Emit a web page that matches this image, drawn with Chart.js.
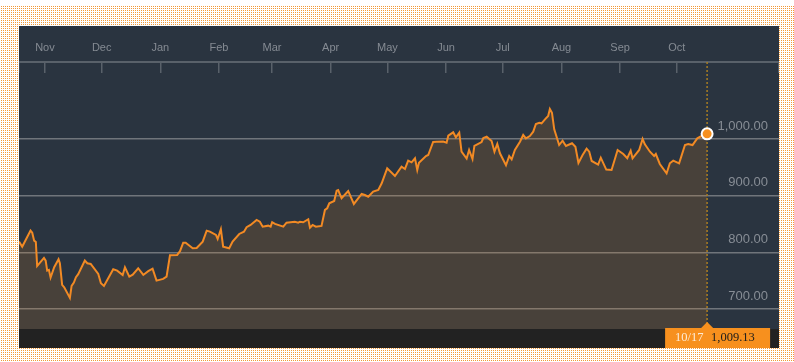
<!DOCTYPE html>
<html>
<head>
<meta charset="utf-8">
<script src="https://cdn.jsdelivr.net/npm/chart.js@4/dist/chart.umd.min.js"></script>
<style>
  html, body { margin: 0; padding: 0; }
  body {
    width: 794px; height: 362px; position: relative; overflow: hidden;
    background-color: #fff;
    background-image: conic-gradient(#f39a38 25%, #ffffff 0);
    background-size: 2px 2px;
  }
  #topband { position: absolute; left: 0; top: 0; width: 794px; height: 6px; background: #fff; }
  #panel {
    position: absolute; left: 19px; top: 26px; width: 760px; height: 322px;
    background: linear-gradient(to bottom, #2a3440 0, #2a3440 303px, #222 303px);
  }
</style>
</head>
<body>
<div id="topband"></div>
<div id="panel"><canvas id="chart"></canvas></div>
<script>
// days counted from 1 Nov 2016, closing values
const days = [
  -13.7, -12.0, -9.7, -7.6, -6.7, -5.7, -4.8, -4.1, -2.6, -0.5,
  0.4, 1.2, 2.1, 3.0, 4.9, 7.2, 7.9, 9.1, 10.2, 13.2,
  14.1, 15.3, 16.4, 17.6, 21.1, 22.4, 24.2, 28.2, 29.6, 31.2,
  36.1, 38.2, 41.1, 42.3, 44.6, 46.4, 49.3, 52.0, 54.6, 56.9,
  59.0, 62.5, 64.3, 66.1, 69.9, 71.4, 73.1, 74.4, 78.1, 80.2,
  83.4, 85.5, 87.2, 90.4, 91.3, 93.0, 94.2, 97.4, 99.2, 102.7,
  105.2, 106.6, 108.7, 111.9, 113.6, 115.1, 118.0, 119.3, 120.1, 121.6,
  126.0, 127.7, 132.1, 133.9, 134.8, 136.5, 139.2, 140.1, 141.5, 143.2,
  146.2, 148.0, 149.2, 150.3, 152.9, 154.2, 155.0, 156.8, 160.3, 163.3,
  167.4, 169.1, 170.9, 173.5, 176.2, 178.0, 180.9, 185.0, 188.5, 190.3,
  192.0, 193.8, 195.6, 196.8, 197.7, 201.4, 202.6, 205.2, 207.0, 210.5,
  212.3, 213.2, 215.8, 217.2, 219.0, 220.2, 222.9, 224.2, 226.0, 227.0,
  230.8, 231.7, 233.5, 236.1, 237.6, 239.1, 240.5, 243.7, 245.4, 246.7,
  248.4, 251.1, 252.8, 254.2, 256.3, 258.1, 259.5, 261.3, 262.5, 264.3,
  266.0, 266.9, 268.0, 269.2, 271.8, 273.6, 275.4, 278.6, 280.4, 282.0,
  284.2, 286.3, 287.7, 289.0, 292.4, 293.8, 296.7, 299.5, 302.7, 305.7,
  307.8, 309.6, 310.6, 314.1, 315.9, 317.1, 319.8, 322.0, 322.9, 325.0,
  328.6, 330.3, 332.1, 335.2, 338.3, 340.0, 342.3, 344.8, 347.1, 350
];
const values = [
  818.9, 810.0, 824.9, 838.3, 834.7, 820.6, 818.3, 776.0, 781.8, 790.1,
  785.4, 767.7, 769.0, 755.4, 773.7, 787.8, 780.8, 742.5, 738.4, 719.6,
  740.7, 746.6, 756.1, 761.4, 785.4, 780.8, 779.5, 761.9, 745.5, 740.7,
  770.2, 767.7, 760.1, 773.7, 757.1, 760.7, 771.9, 760.1, 766.7, 771.2,
  750.1, 753.1, 757.1, 794.9, 795.4, 802.1, 817.1, 817.1, 807.2, 807.8,
  818.9, 838.3, 836.5, 830.7, 823.6, 840.7, 810.0, 807.2, 818.9, 832.4,
  836.5, 844.3, 848.3, 857.1, 854.1, 845.3, 847.1, 845.3, 853.1, 850.1,
  845.3, 852.4, 854.1, 852.4, 854.1, 853.1, 858.4, 843.6, 848.3, 845.3,
  846.6, 874.8, 877.8, 886.6, 890.6, 908.8, 910.0, 895.4, 908.3, 885.4,
  903.0, 901.2, 898.2, 907.1, 910.0, 921.9, 948.3, 934.7, 951.1, 947.1,
  961.7, 958.9, 966.0, 945.3, 958.2, 970.0, 971.8, 994.7, 995.2, 995.6,
  993.5, 1005.8, 1011.8, 1003.0, 1011.1, 977.6, 965.6, 980.6, 964.7, 987.7,
  994.7, 1001.8, 1004.1, 996.5, 977.6, 991.2, 974.8, 953.6, 970.0, 964.2,
  980.6, 995.2, 1007.1, 1001.2, 1005.3, 1012.9, 1026.5, 1028.7, 1027.7, 1034.7,
  1040.6, 1052.9, 1046.4, 1017.1, 989.4, 997.0, 987.7, 992.4, 986.4, 957.7,
  971.8, 982.9, 977.6, 961.2, 955.0, 967.0, 946.0, 945.3, 980.6, 973.5,
  966.0, 979.4, 966.0, 980.6, 1000.0, 990.7, 977.6, 970.0, 973.5, 955.9,
  939.5, 957.1, 961.7, 957.1, 989.4, 991.2, 989.4, 1001.2, 1005.3, 1009.13
];

const monthStarts = [0, 30, 61, 92, 120, 151, 181, 212, 242, 273, 304, 334];
const monthLabels = ['Nov', 'Dec', 'Jan', 'Feb', 'Mar', 'Apr', 'May', 'Jun', 'Jul', 'Aug', 'Sep', 'Oct'];
const yTicks = [700, 800, 900, 1000];

const X_MIN = -13.7, X_MAX = 388;
const baseDate = Date.UTC(2016, 10, 1);

const lastIdx = days.length - 1;
const lastDay = new Date(baseDate + days[lastIdx] * 864e5);
const dateLabel = (lastDay.getUTCMonth() + 1) + '/' + lastDay.getUTCDate();
const fmt = v => v.toLocaleString('en-US', { minimumFractionDigits: 2, maximumFractionDigits: 2 });

// dotted marker line plus the orange box under the last point
const lastMarker = {
  id: 'lastMarker',
  beforeDatasetsDraw(chart) {
    const { ctx, chartArea, scales } = chart;
    const px = scales.x.getPixelForValue(days[lastIdx]);
    ctx.save();
    ctx.strokeStyle = '#a87d22';
    ctx.lineWidth = 1.5;
    ctx.setLineDash([2, 2]);
    ctx.beginPath();
    ctx.moveTo(px, chartArea.top);
    ctx.lineTo(px, chartArea.bottom);
    ctx.stroke();
    ctx.restore();
  },
  afterDraw(chart) {
    const { ctx, chartArea, scales } = chart;
    const px = scales.x.getPixelForValue(days[lastIdx]);
    const top = chartArea.bottom - 1;
    ctx.save();
    ctx.fillStyle = '#f7901e';
    ctx.beginPath();
    ctx.moveTo(px - 6, top);
    ctx.lineTo(px, top - 6);
    ctx.lineTo(px + 6, top);
    ctx.closePath();
    ctx.fill();
    ctx.fillRect(px - 42, top, 105, chart.height - top);
    ctx.font = "12.5px 'Liberation Serif', serif";
    ctx.textBaseline = 'middle';
    ctx.fillStyle = '#fdebd6';
    ctx.fillText(dateLabel, px - 32, top + 10);
    ctx.fillStyle = '#1c1c1c';
    ctx.fillText(fmt(values[lastIdx]), px + 4, top + 10);
    ctx.restore();
  }
};

Chart.defaults.font.family = "'Liberation Sans', Arial, sans-serif";

new Chart(document.getElementById('chart'), {
  type: 'line',
  data: {
    datasets: [{
      data: days.map((d, i) => ({ x: d, y: values[i] })),
      borderColor: '#f28a24',
      borderWidth: 2,
      backgroundColor: 'rgba(247, 144, 30, 0.15)',
      fill: 'start',
      tension: 0,
      pointRadius: ctx => ctx.dataIndex === lastIdx ? 5.5 : 0,
      pointHoverRadius: 0,
      pointBackgroundColor: '#f7901e',
      pointBorderColor: '#ffffff',
      pointBorderWidth: 2
    }]
  },
  options: {
    responsive: true,
    maintainAspectRatio: false,
    animation: false,
    layout: { autoPadding: false, padding: { top: 0, left: 0, right: 0, bottom: 19 } },
    plugins: { legend: { display: false }, tooltip: { enabled: false } },
    scales: {
      x: {
        type: 'linear',
        position: 'top',
        min: X_MIN,
        max: X_MAX,
        afterBuildTicks: s => { s.ticks = [X_MIN, ...monthStarts, X_MAX].map(v => ({ value: v })); },
        afterFit: s => { s.height = 36; s.paddingLeft = 0; s.paddingRight = 0; },
        ticks: {
          autoSkip: false,
          maxRotation: 0,
          padding: 18,
          color: '#858b93',
          font: { size: 11 },
          callback: v => { const i = monthStarts.indexOf(v); return i < 0 ? '' : monthLabels[i]; }
        },
        grid: { drawOnChartArea: false, drawTicks: true, tickLength: -11, color: '#59616a', lineWidth: 1.5 },
        border: { display: true, color: '#59616a', width: 2 }
      },
      y: {
        position: 'right',
        min: 664.7,
        max: 1135.9,
        afterBuildTicks: s => { s.ticks = yTicks.map(v => ({ value: v })); },
        afterFit: s => { s.width = 0; s.paddingTop = 0; s.paddingBottom = 0; },
        ticks: {
          mirror: true,
          padding: -11,
          labelOffset: -13,
          color: '#878d95',
          font: { size: 13 },
          callback: v => fmt(v)
        },
        grid: { color: '#70757b', lineWidth: 1.5, drawTicks: false },
        border: { display: false }
      }
    }
  },
  plugins: [lastMarker]
});
</script>
</body>
</html>
